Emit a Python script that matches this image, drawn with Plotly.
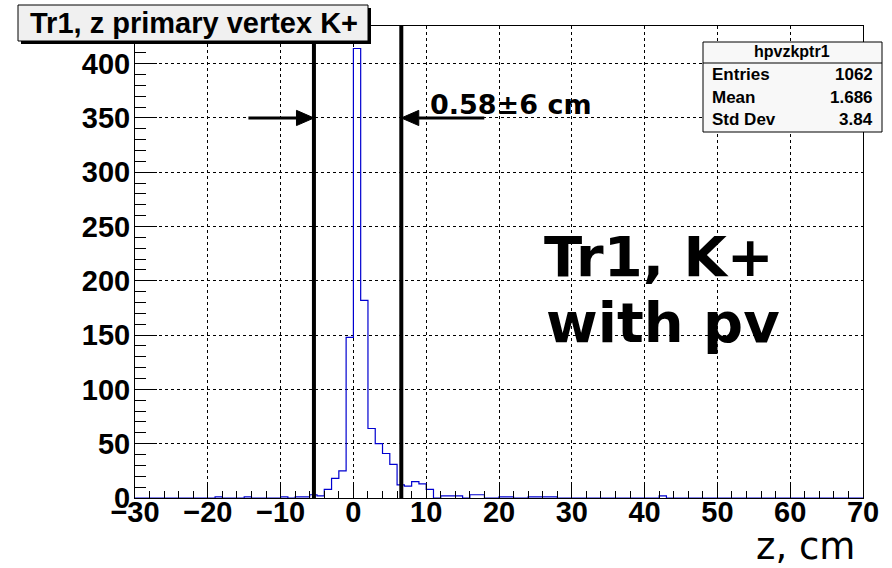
import numpy as np
import plotly.graph_objects as go

# Histogram hpvzkptr1: z of the primary vertex for K+ tracks, 1 cm bins on [-30, 70)
z_lo, z_hi, bin_w = -30, 70, 1
filled_bins = [-19, -15, -10, -8, -7, -6, -5, -4, -3, -2, -1, 0, 1, 2, 3, 4, 5,
               6, 7, 8, 9, 10, 12, 13, 14, 16, 17, 20, 21, 24, 25, 26, 27, 42]
bin_counts = [1, 1, 1, 1, 1, 3, 2, 8, 18, 25, 148, 414, 182, 64, 50, 41, 31,
              12, 11, 15, 13, 8, 2, 2, 2, 3, 3, 1, 1, 1, 1, 1, 1, 2]

# selection window drawn on top of the histogram
window_center = 0.58
window_half = 6.0
arrow_level = 350
arrow_len_left = 9.0
arrow_len_right = 11.4

hist_name = "hpvzkptr1"
stats_labels = ["Entries", "Mean", "Std Dev"]
stats_values = ["1062", "1.686", "3.84"]

x_ticks = list(range(-30, 71, 10))
y_ticks = list(range(0, 401, 50))

# ---------------------------------------------------------------------------
edges = np.arange(z_lo, z_hi + bin_w, bin_w)
counts = np.zeros(len(edges) - 1)
for lo, c in zip(filled_bins, bin_counts):
    counts[int((lo - z_lo) / bin_w)] = c
y_max = counts.max() * 1.05

W, H = 892, 568
ML, MR, MT, MB = 135, 29, 26, 70
PW, PH = W - ML - MR, H - MT - MB


def px(x):
    return (x - ML) / PW


def py(y):
    return (H - MB - y) / PH


BOLD = "Liberation Sans"
fig = go.Figure()

# step outline of the histogram
fig.add_trace(go.Scatter(
    x=edges, y=np.append(counts, counts[-1]), mode="lines",
    line=dict(color="#0000d0", width=1.2, shape="hv"),
    hoverinfo="skip", showlegend=False,
))

shapes = []
# window edges
for xv in (window_center - window_half, window_center + window_half):
    shapes.append(dict(type="line", xref="x", yref="paper", x0=xv, x1=xv,
                       y0=0, y1=1, line=dict(color="black", width=4)))

# arrows pointing at the window edges
head_len = 2.4
head_half = 7.0
left_tip = window_center - window_half
right_tip = window_center + window_half
shapes.append(dict(type="line", xref="x", yref="y",
                   x0=left_tip - arrow_len_left, x1=left_tip - head_len,
                   y0=arrow_level, y1=arrow_level,
                   line=dict(color="black", width=3)))
shapes.append(dict(type="path", xref="x", yref="y",
                   path=f"M {left_tip} {arrow_level} L {left_tip - head_len} {arrow_level + head_half} "
                        f"L {left_tip - head_len} {arrow_level - head_half} Z",
                   fillcolor="black", line=dict(color="black", width=1)))
shapes.append(dict(type="line", xref="x", yref="y",
                   x0=right_tip + arrow_len_right, x1=right_tip + head_len,
                   y0=arrow_level, y1=arrow_level,
                   line=dict(color="black", width=3)))
shapes.append(dict(type="path", xref="x", yref="y",
                   path=f"M {right_tip} {arrow_level} L {right_tip + head_len} {arrow_level + head_half} "
                        f"L {right_tip + head_len} {arrow_level - head_half} Z",
                   fillcolor="black", line=dict(color="black", width=1)))

# title box with shadow
shapes.append(dict(type="rect", xref="paper", yref="paper", layer="above",
                   x0=px(21), x1=px(371), y0=py(44), y1=py(8),
                   fillcolor="black", line=dict(width=0)))
shapes.append(dict(type="rect", xref="paper", yref="paper", layer="above",
                   x0=px(18), x1=px(368), y0=py(41), y1=py(5),
                   fillcolor="#f0f0f0", line=dict(color="black", width=1)))
# statistics box
shapes.append(dict(type="rect", xref="paper", yref="paper", layer="above",
                   x0=px(703), x1=px(882), y0=py(132), y1=py(42),
                   fillcolor="#f8f8f8", line=dict(color="black", width=1)))
shapes.append(dict(type="line", xref="paper", yref="paper", layer="above",
                   x0=px(703), x1=px(882), y0=py(63), y1=py(63),
                   line=dict(color="black", width=1)))

MID = dict(xanchor="center", yanchor="middle", showarrow=False)
ann = []
ann.append(dict(text="Tr1, z primary vertex K+", xref="paper", yref="paper",
                x=px(194), y=py(23), **MID,
                font=dict(family=BOLD, size=29, color="black", weight="bold")))
ann.append(dict(text=hist_name, xref="paper", yref="paper",
                x=px(792), y=py(52), **MID,
                font=dict(family=BOLD, size=16, color="black", weight="bold")))
for i, (lab, val) in enumerate(zip(stats_labels, stats_values)):
    yy = py(75 + i * 22)
    ann.append(dict(text=lab, xref="paper", yref="paper", x=px(710), y=yy,
                    xanchor="left", yanchor="middle", showarrow=False,
                    font=dict(family=BOLD, size=17, color="black", weight="bold")))
    ann.append(dict(text=val, xref="paper", yref="paper", x=px(875), y=yy,
                    xanchor="right", yanchor="middle", showarrow=False,
                    font=dict(family=BOLD, size=17, color="black", weight="bold")))

ann.append(dict(text=f"{window_center}\u00b1{window_half:g} cm", xref="x", yref="y",
                x=10.2, y=362, xanchor="left", yanchor="middle", showarrow=False,
                font=dict(family="DejaVu Sans", size=27, color="black", weight="bold")))
ann.append(dict(text="Tr1, K+", xref="x", yref="y", x=42.0, y=222, **MID,
                font=dict(family="DejaVu Sans", size=56, color="black", weight="bold")))
ann.append(dict(text="with pv", xref="x", yref="y", x=42.5, y=162, **MID,
                font=dict(family="DejaVu Sans", size=56, color="black", weight="bold")))
ann.append(dict(text="z, cm", xref="paper", yref="paper", x=px(857), y=py(546),
                xanchor="right", yanchor="middle", showarrow=False,
                font=dict(family="DejaVu Sans", size=37, color="black")))

axis_common = dict(
    showgrid=True, gridcolor="black", gridwidth=1, griddash="dot",
    showline=True, linecolor="black", linewidth=1, mirror=True,
    zeroline=False, ticks="inside", tickcolor="black", tickwidth=1,
    tickfont=dict(family=BOLD, size=29, color="black", weight="bold"),
)
fig.update_xaxes(range=[z_lo, z_hi], tickvals=x_ticks, ticklen=14,
                 minor=dict(ticks="inside", ticklen=7, dtick=2, tick0=0,
                            tickcolor="black", showgrid=False),
                 ticklabelstandoff=-12, **axis_common)
fig.update_yaxes(range=[0, y_max], tickvals=y_ticks, ticklen=22,
                 minor=dict(ticks="inside", ticklen=11, dtick=10, tick0=0,
                            tickcolor="black", showgrid=False),
                 ticklabelstandoff=-2, **axis_common)

fig.update_layout(
    width=W, height=H, margin=dict(l=ML, r=MR, t=MT, b=MB),
    paper_bgcolor="white", plot_bgcolor="white",
    shapes=shapes, annotations=ann, showlegend=False,
)
fig.write_html("out.html")
